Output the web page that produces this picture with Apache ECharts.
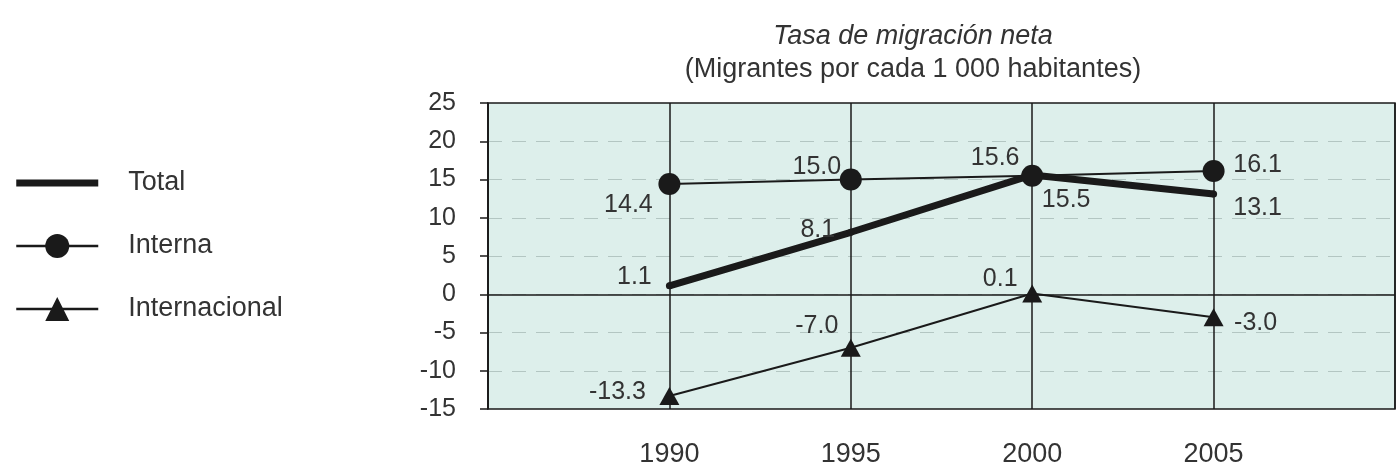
<!DOCTYPE html>
<html>
<head>
<meta charset="utf-8">
<title>Tasa de migración neta</title>
<script src="https://cdn.jsdelivr.net/npm/echarts@6/dist/echarts.min.js"></script>
<style>
  html, body { margin: 0; padding: 0; background: #fff; }
  #chart { width: 1398px; height: 474px; }
</style>
</head>
<body>
<div id="chart"></div>
<script>
// values
const years = [1990, 1995, 2000, 2005];
const total = [1.1, 8.1, 15.6, 13.1];
const interna = [14.4, 15.0, 15.5, 16.1];
const internacional = [-13.3, -7.0, 0.1, -3.0];

// label offsets from each point (px), kept apart from the data
const totalOffsets = [[-35, -9], [-33, -2], [-37, -17], [44, 14]];
const internaOffsets = [[-41, 21], [-34, -12], [34, 24], [44, -6]];
const internacionalOffsets = [[-52, -4], [-34, -22], [-32, -14], [42, 6]];

const font = 'Liberation Sans, Arial, sans-serif';
const ink = '#1a1a1a';
const textColor = '#333';

const makeData = (vals, offsets) =>
  years.map((y, i) => ({ value: [y, vals[i]], label: { offset: offsets[i] } }));

const pointLabel = {
  show: true,
  position: 'inside',
  color: textColor,
  fontFamily: font,
  fontSize: 25,
  formatter: (p) => p.value[1].toFixed(1),
};

const chart = echarts.init(document.getElementById('chart'));

const option = {
  animation: false,
  textStyle: { fontFamily: font },
  title: {
    text: 'Tasa de migración neta',
    subtext: '(Migrantes por cada 1 000 habitantes)',
    left: 908,
    top: 18,
    textAlign: 'center',
    itemGap: 6,
    textStyle: { fontFamily: font, fontSize: 27, fontStyle: 'italic', fontWeight: 'normal', color: textColor },
    subtextStyle: { fontFamily: font, fontSize: 27, color: textColor },
  },
  legend: {
    orient: 'vertical',
    left: 10,
    top: 163,
    itemWidth: 82,
    itemHeight: 30,
    itemGap: 33,
    lineStyle: { width: 2.5 },
    textStyle: { fontFamily: font, fontSize: 27, lineHeight: 30, color: textColor, padding: [0, 0, 0, 25] },
    data: [
      { name: 'Total', icon: 'path://M0,0H82V7H0Z', itemStyle: { color: ink } },
      'Interna',
      'Internacional',
    ],
  },
  grid: {
    left: 488,
    right: 3,
    top: 103,
    bottom: 65,
    show: true,
    backgroundColor: '#ddefeb',
    borderColor: ink,
    borderWidth: 1.5,
  },
  xAxis: {
    type: 'value',
    min: 1985,
    max: 2010,
    interval: 5,
    axisLine: { show: false },
    axisTick: { show: false },
    splitLine: { show: true, lineStyle: { color: ink, width: 1.5 } },
    axisLabel: {
      margin: 32,
      fontFamily: font,
      fontSize: 27,
      color: textColor,
      formatter: (v) => (years.includes(v) ? String(v) : ''),
    },
  },
  yAxis: {
    type: 'value',
    min: -15,
    max: 25,
    interval: 5,
    axisLine: { show: true, lineStyle: { color: ink, width: 1.5 } },
    axisTick: { show: true, length: 8, lineStyle: { color: ink, width: 1.5 } },
    splitLine: {
      show: true,
      showMinLine: false,
      showMaxLine: false,
      lineStyle: { color: '#b3c6c2', type: [14, 10], width: 1 },
    },
    axisLabel: { margin: 32, fontFamily: font, fontSize: 25, color: textColor },
  },
  series: [
    {
      name: 'Total',
      type: 'line',
      data: makeData(total, totalOffsets),
      symbol: 'circle',
      symbolSize: 7,
      itemStyle: { color: ink },
      lineStyle: { color: ink, width: 7 },
      label: pointLabel,
      z: 3,
    },
    {
      name: 'Interna',
      type: 'line',
      data: makeData(interna, internaOffsets),
      symbol: 'circle',
      symbolSize: 22,
      itemStyle: { color: ink },
      lineStyle: { color: ink, width: 2 },
      label: pointLabel,
      z: 4,
    },
    {
      name: 'Internacional',
      type: 'line',
      data: makeData(internacional, internacionalOffsets),
      symbol: 'triangle',
      symbolSize: [20, 18],
      itemStyle: { color: ink },
      lineStyle: { color: ink, width: 2 },
      label: pointLabel,
      z: 4,
      markLine: {
        silent: true,
        symbol: 'none',
        label: { show: false },
        lineStyle: { color: ink, type: 'solid', width: 1.5 },
        data: [{ yAxis: 0 }],
      },
    },
  ],
};

chart.setOption(option);
</script>
</body>
</html>
